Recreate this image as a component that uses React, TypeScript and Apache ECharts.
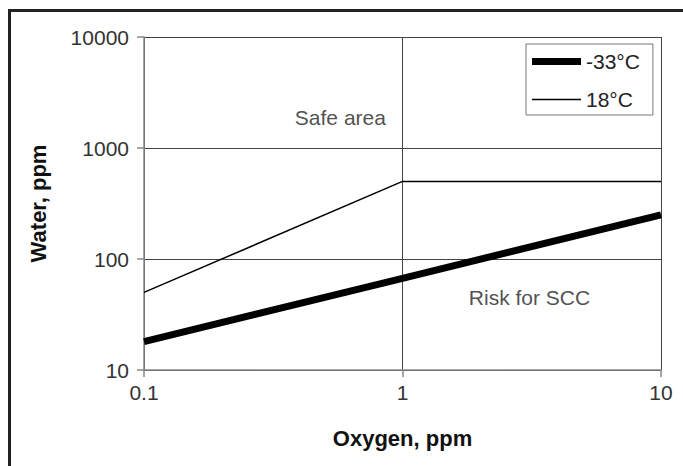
import React, { useEffect, useRef } from "react";
import * as echarts from "echarts";

const oxygenPpm = [0.1, 1, 10];
const waterMinus33 = [18, 67, 250];
const water18 = [50, 500, 500];
const seriesNames = ["-33°C", "18°C"];
const seriesWidths = [7, 1.5];
const legendIcons = ["path://M0,0H49V7H0Z", "path://M0,0H49V1.5H0Z"];
const xTickLabels = ["0.1", "1", "10"];
const yTickLabels = ["10", "100", "1000", "10000"];
const annotations = [
  { x: 0.575, y: 1900, text: "Safe area" },
  { x: 3.1, y: 45, text: "Risk for SCC" },
];

const FONT = "'Liberation Sans', Arial, Helvetica, sans-serif";

export default function App() {
  const ref = useRef<HTMLDivElement>(null);
  useEffect(() => {
    if (!ref.current) return;
    const chart = echarts.init(ref.current, undefined, { renderer: "svg" });
    const fmt = (labels: string[]) => (v: number) => {
      const s = labels.find((l) => Math.abs(parseFloat(l) - v) < 1e-9 * Math.max(1, v));
      return s ?? "";
    };
    chart.setOption({
      animation: false,
      backgroundColor: "#ffffff",
      textStyle: { fontFamily: FONT },
      grid: { left: 144, right: 22, top: 37, bottom: 96, containLabel: false },
      legend: {
        orient: "vertical",
        left: 526,
        top: 44,
        padding: [7, 13, 5, 6],
        itemGap: 17,
        itemWidth: 49,
        itemHeight: 16,
        symbolKeepAspect: true,
        backgroundColor: "#ffffff",
        borderColor: "#777777",
        borderWidth: 1,
        textStyle: { fontFamily: FONT, fontSize: 21, color: "#222222" },
        data: seriesNames.map((n, i) => ({
          name: n,
          icon: legendIcons[i],
          itemStyle: { color: "#000000", borderWidth: 0 },
        })),
        selectedMode: false,
      },
      xAxis: {
        type: "log",
        logBase: 10,
        min: 0.1,
        max: 10,
        axisLine: { show: true, lineStyle: { color: "#888888", width: 1.5 } },
        axisTick: { show: true, inside: false, length: 7, lineStyle: { color: "#888888", width: 1.5 } },
        minorTick: { show: false },
        splitLine: { show: true, lineStyle: { color: "#444444", width: 1 } },
        axisLabel: {
          fontFamily: FONT,
          fontSize: 21,
          color: "#333333",
          margin: 12,
          formatter: fmt(xTickLabels),
        },
        name: "Oxygen, ppm",
        nameLocation: "middle",
        nameGap: 57,
        nameTextStyle: { fontFamily: FONT, fontSize: 22, fontWeight: "bold", color: "#111111" },
      },
      yAxis: {
        type: "log",
        logBase: 10,
        min: 10,
        max: 10000,
        axisLine: { show: true, lineStyle: { color: "#888888", width: 1.5 } },
        axisTick: { show: true, length: 7, lineStyle: { color: "#888888", width: 1.5 } },
        splitLine: { show: true, lineStyle: { color: "#444444", width: 1 } },
        axisLabel: {
          fontFamily: FONT,
          fontSize: 21,
          color: "#333333",
          margin: 15,
          formatter: fmt(yTickLabels),
        },
        name: "Water, ppm",
        nameLocation: "middle",
        nameGap: 95,
        nameRotate: 90,
        nameTextStyle: { fontFamily: FONT, fontSize: 22, fontWeight: "bold", color: "#111111" },
      },
      series: [
        {
          name: seriesNames[0],
          type: "line",
          data: oxygenPpm.map((x, i) => [x, waterMinus33[i]]),
          showSymbol: false,
          symbol: "none",
          lineStyle: { color: "#000000", width: seriesWidths[0] },
          itemStyle: { color: "#000000" },
          z: 3,
        },
        {
          name: seriesNames[1],
          type: "line",
          data: oxygenPpm.map((x, i) => [x, water18[i]]),
          showSymbol: false,
          symbol: "none",
          lineStyle: { color: "#000000", width: seriesWidths[1] },
          itemStyle: { color: "#000000" },
          z: 3,
        },
        {
          name: "annotations",
          type: "scatter",
          data: annotations.map((a) => ({ value: [a.x, a.y], name: a.text })),
          symbolSize: 0,
          silent: true,
          label: {
            show: true,
            position: "inside",
            formatter: (p: any) => p.name,
            fontFamily: FONT,
            fontSize: 21,
            color: "#222222",
          },
        },
      ],
      graphic: [
        {
          type: "line",
          shape: { x1: 8, y1: 10.5, x2: 683, y2: 10.5 },
          style: { stroke: "#222222", lineWidth: 3 },
        },
        {
          type: "line",
          shape: { x1: 9.5, y1: 9, x2: 9.5, y2: 466 },
          style: { stroke: "#222222", lineWidth: 3 },
        },
      ],
    });
    return () => chart.dispose();
  }, []);
  return <div ref={ref} style={{ width: 683, height: 466, position: "fixed", left: 0, top: 0 }} />;
}
